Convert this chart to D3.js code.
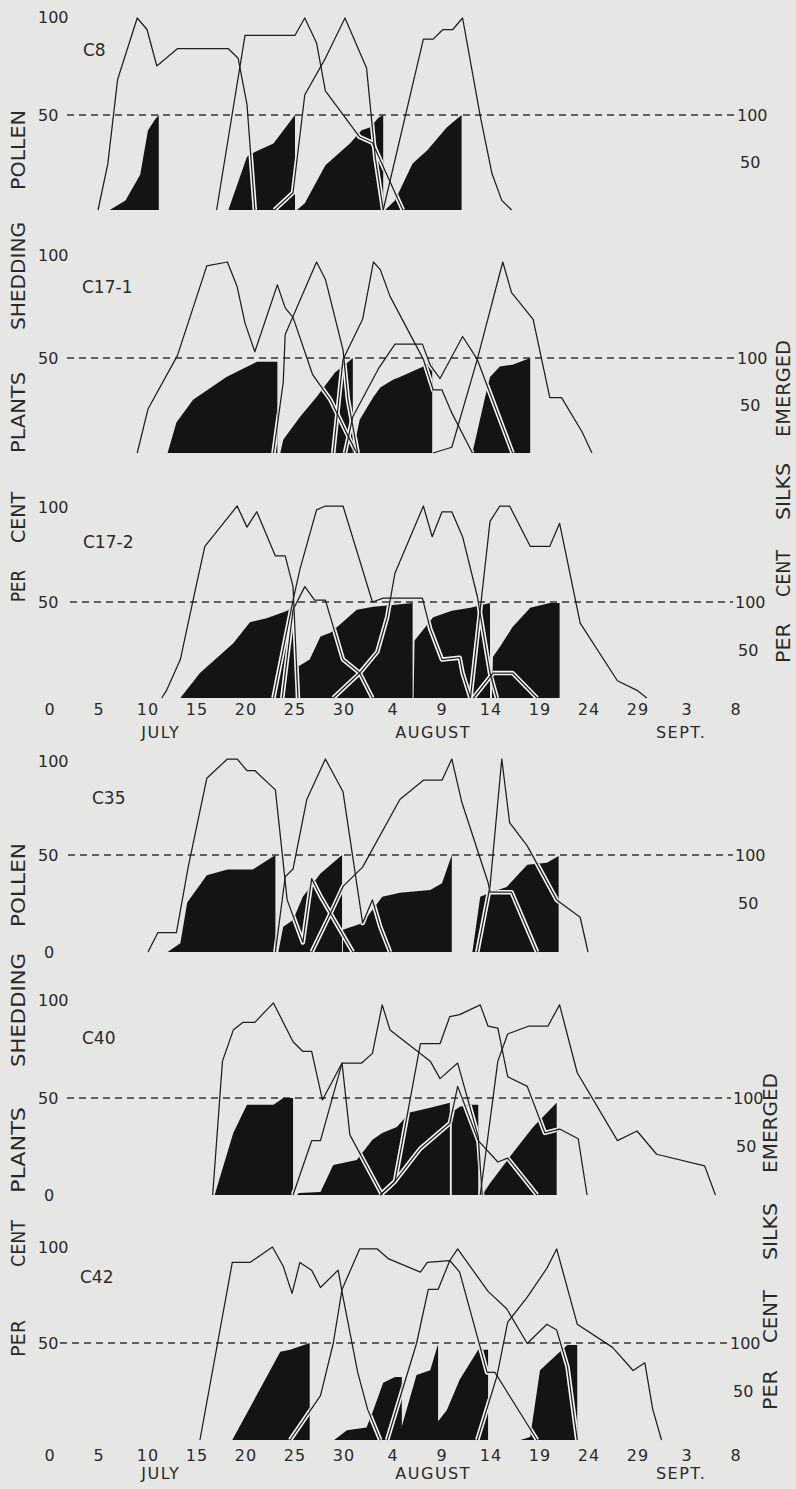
<!DOCTYPE html>
<html>
<head>
<meta charset="utf-8">
<script src="https://d3js.org/d3.v7.min.js"></script>
<style>
  body { margin: 0; background: #e6e6e4; }
  svg { display: block; }
  .lbl { font-family: "DejaVu Sans", sans-serif; fill: #2a2a2a; }
  .pollen { fill: none; stroke: #1e1e1e; stroke-width: 1.25; stroke-linejoin: round; }
  .casing { fill: none; stroke: #f4f4f2; stroke-width: 4.5; stroke-linejoin: round; }
  .silk { fill: #141414; stroke: none; }
  .half { stroke: #333; stroke-width: 1.4; stroke-dasharray: 7,5; }
</style>
</head>
<body>
<svg id="chart" width="796" height="1489"></svg>
<script>
// x = days counted from June 30 (0) ; pollen / silk values in per cent
const tickDays = [0, 5, 10, 15, 20, 25, 30, 35, 40, 45, 50, 55, 60, 65, 70];
const tickLabels = ["0", "5", "10", "15", "20", "25", "30", "4", "9", "14", "19", "24", "29", "3", "8"];
const monthNames = ["JULY", "AUGUST", "SEPT."];
const monthDays = [11.3, 39.1, 64.4];

const panelNames = ["C8", "C17-1", "C17-2", "C35", "C40", "C42"];

// per cent plants shedding pollen
const c8Pollen = [
  [[4.9,0],[5.9,24],[6.9,68],[8.9,100],[9.9,94],[10.9,75],[13.0,84],[18.2,84],[19.2,79],[20.1,55],[20.9,0]],
  [[17.0,0],[19.9,91],[25.0,91],[26.0,100],[27.2,87],[28.1,62],[31.6,38],[32.9,35],[36.0,0]],
  [[22.9,0],[24.8,9],[26.0,60],[28.1,79],[30.1,100],[32.3,74],[33.2,27],[34.0,0]],
  [[34.0,0],[38.1,89],[39.1,89],[40.1,94],[41.1,94],[42.1,100],[43.9,49],[45.1,19],[46.1,5],[47.1,0]]
];
const c171Pollen = [
  [[8.9,0],[10.0,23],[13.0,51],[16.0,98],[18.1,100],[19.1,87],[19.9,68],[20.9,53],[23.2,88],[24.0,76],[24.8,71],[26.8,41],[28.6,28],[30.6,7],[31.3,0]],
  [[22.8,0],[23.8,37],[24.0,62],[27.2,100],[28.1,91],[29.9,54],[30.4,28],[31.4,0]],
  [[28.9,0],[29.9,49],[31.9,70],[33.0,100],[33.7,96],[34.7,82],[38.1,49],[39.1,33],[40.0,33],[41.0,21],[43.1,0]],
  [[30.1,0],[30.9,19],[33.5,44],[35.2,57],[38.0,57],[38.8,46],[39.8,39],[42.1,61],[43.6,49],[47.2,0]],
  [[39.1,0],[41.0,3],[43.6,49],[46.2,100],[47.1,84],[49.3,70],[51.0,29],[52.2,29],[54.3,11],[55.3,0]]
];
const c172Pollen = [
  [[11.4,0],[11.9,4],[13.3,20],[14.6,51],[15.8,79],[16.6,84],[19.1,100],[20.1,89],[21.1,97],[23.0,74],[24.0,74],[24.8,58],[25.3,0]],
  [[22.8,0],[24.8,51],[25.5,67],[27.2,98],[28.1,100],[29.9,100],[32.9,50],[34.0,52],[38.0,52],[38.8,36],[40.0,20],[41.8,21],[42.1,13],[42.9,0]],
  [[23.7,0],[24.8,46],[26.0,58],[27.0,51],[28.1,51],[29.9,20],[31.6,13],[32.9,0]],
  [[28.9,0],[31.6,13],[33.4,24],[34.4,42],[35.2,65],[38.1,100],[39.0,84],[40.0,97],[41.0,97],[42.1,84],[43.6,53],[44.9,13],[45.6,0]],
  [[42.9,0],[44.9,92],[45.9,100],[46.9,100],[49.0,79],[51.0,79],[52.0,91],[54.1,39],[57.9,9],[59.9,4],[60.9,0]],
  [[43.2,0],[45.2,13],[47.2,13],[49.7,0]]
];
const c35Pollen = [
  [[10.0,0],[11.0,10],[12.9,10],[14.1,44],[16.0,90],[18.1,100],[19.1,100],[20.1,94],[20.9,94],[23.0,84],[24.2,27],[25.8,5],[26.7,38],[27.6,29],[30.9,0]],
  [[23.0,0],[24.0,39],[24.8,43],[26.2,79],[28.1,100],[29.9,83],[30.9,49],[31.9,15],[32.9,27],[33.7,13],[34.7,0]],
  [[26.7,0],[28.9,23],[29.9,34],[31.9,44],[35.7,79],[38.1,89],[40.0,89],[41.0,100],[42.0,78],[44.7,36],[44.9,31],[47.1,31],[49.7,0]],
  [[43.6,0],[44.9,34],[46.1,100],[46.9,67],[48.7,55],[51.7,27],[54.1,18],[54.9,0]]
];
const c40Pollen = [
  [[16.6,0],[17.6,69],[18.7,85],[19.7,89],[20.9,89],[22.8,99],[24.8,79],[25.8,74],[26.7,74],[27.8,49],[29.8,68],[30.6,31],[33.9,0]],
  [[24.8,0],[26.7,28],[27.6,28],[29.8,68],[31.8,68],[32.9,73],[33.9,98],[34.7,85],[38.8,69],[39.8,60],[41.6,68],[43.7,30],[44.1,0]],
  [[33.7,0],[35.2,7],[37.8,78],[39.8,78],[40.8,92],[41.8,93],[43.9,98],[44.7,87],[45.7,86],[46.7,61],[48.7,56],[50.5,32],[52.0,34],[53.9,29],[54.8,0]],
  [[33.7,0],[35.2,7],[37.8,24],[40.8,37],[41.6,56],[43.7,28],[45.7,17],[46.7,19],[49.7,0]],
  [[43.9,0],[45.7,69],[46.7,83],[48.8,87],[50.8,87],[52.0,98],[53.8,63],[57.9,28],[59.9,33],[61.9,21],[66.8,15],[67.9,0]]
];
const c42Pollen = [
  [[15.3,0],[18.6,92],[20.4,92],[22.7,100],[23.8,90],[24.7,76],[25.5,92],[26.7,88],[27.6,79],[29.4,88],[29.9,74],[31.4,35],[32.4,16],[33.7,0]],
  [[24.5,0],[27.6,23],[28.9,50],[29.8,78],[31.6,99],[33.4,99],[34.5,94],[37.8,87],[38.5,92],[40.8,93],[41.8,87],[44.6,35],[45.4,35],[49.7,0]],
  [[34.4,0],[37.4,50],[38.6,78],[39.6,78],[40.8,93],[41.6,99],[44.7,77],[46.6,68],[48.7,50],[50.7,60],[51.7,57],[52.8,38],[53.8,0]],
  [[43.6,0],[45.6,33],[46.7,61],[48.7,74],[50.7,89],[51.7,99],[53.8,60],[57.4,48],[59.5,36],[60.7,40],[61.5,16],[62.4,0]]
];

// per cent silks emerged (cumulative)
const c8Silk = [
  [[6.1,0],[7.7,10],[9.2,37],[10.0,84],[10.7,95],[11.1,100]],
  [[18.2,0],[20.1,56],[20.9,61],[22.8,70],[25.0,100]],
  [[25.2,0],[26.0,7],[28.1,47],[30.6,70],[31.8,84],[32.7,87],[33.5,97],[34.0,100]],
  [[34.2,0],[35.2,10],[37.0,49],[38.5,63],[40.5,87],[42.0,100]]
];
const c171Silk = [
  [[12.0,0],[12.9,32],[14.6,56],[18.0,80],[21.1,96],[23.2,96]],
  [[23.5,0],[23.8,14],[25.5,38],[27.2,59],[29.1,85],[30.1,93],[30.9,100]],
  [[30.9,0],[31.6,35],[33.0,59],[33.7,69],[35.0,77],[35.7,80],[38.1,91],[39.0,95]],
  [[43.1,0],[44.4,59],[44.9,80],[45.9,91],[47.2,93],[49.0,100]]
];
const c172Silk = [
  [[13.3,0],[15.3,26],[18.7,57],[20.4,79],[22.1,83],[24.0,90],[25.0,95]],
  [[25.0,0],[25.2,32],[26.5,40],[27.6,64],[28.6,68],[29.3,74],[31.3,92],[33.0,95],[35.0,97],[37.0,99]],
  [[37.1,0],[37.2,60],[39.1,84],[41.0,91],[42.9,94],[44.9,99]],
  [[45.1,0],[45.2,43],[45.9,53],[47.2,74],[49.0,94],[51.0,99],[52.0,99]]
];
const c35Silk = [
  [[12.0,0],[13.3,9],[14.0,51],[16.0,79],[18.1,85],[20.7,85],[23.0,100]],
  [[23.3,0],[23.8,26],[24.8,33],[25.8,57],[27.6,81],[29.8,100]],
  [[29.9,0],[29.9,23],[31.9,30],[33.9,57],[35.7,61],[38.8,64],[40.0,71],[41.0,100]],
  [[43.1,0],[43.9,57],[44.9,61],[46.6,67],[48.7,90],[50.7,92],[51.9,99]]
];
const c40Silk = [
  [[16.8,0],[18.7,64],[20.1,93],[22.8,93],[23.8,100],[24.8,100]],
  [[25.2,0],[25.4,2],[27.6,3],[28.9,31],[31.3,36],[32.9,57],[33.9,64],[35.4,70],[36.7,85],[38.8,90],[40.8,95]],
  [[41.0,0],[41.0,85],[41.8,91],[42.9,93],[43.7,93]],
  [[44.1,0],[44.9,12],[47.2,43],[49.3,70],[51.7,95]]
];
const c42Silk = [
  [[18.6,0],[23.5,91],[24.5,93],[26.5,100]],
  [[29.0,0],[30.3,10],[32.3,13],[33.0,31],[34.0,59],[35.2,65],[35.9,65]],
  [[35.5,0],[37.4,67],[38.8,72],[39.5,96],[39.6,98]],
  [[38.1,0],[40.5,31],[41.8,62],[43.7,93],[44.7,93]],
  [[48.0,0],[49.0,3],[50.0,72],[51.7,88],[52.8,98],[53.8,98]]
];

const pollenData = [c8Pollen, c171Pollen, c172Pollen, c35Pollen, c40Pollen, c42Pollen];
const silkData = [c8Silk, c171Silk, c172Silk, c35Silk, c40Silk, c42Silk];

const leftWords = ["PER", "CENT", "PLANTS", "SHEDDING", "POLLEN"];
const rightWords = ["PER", "CENT", "SILKS", "EMERGED"];

// layout (pixels)
const layout = [
  { base: 210,  half: 115,  full: 18,   topY: 17,   rightX: 737, dash: [67, 735], name: [83, 50] },
  { base: 453,  half: 358,  full: 262,  topY: 255,  rightX: 737, dash: [67, 735], name: [82, 287] },
  { base: 698,  half: 602,  full: 506,  topY: 507,  rightX: 735, dash: [70, 733], name: [83, 542] },
  { base: 952,  half: 855,  full: 759,  topY: 761,  rightX: 735, dash: [68, 733], name: [92, 798] },
  { base: 1195, half: 1098, full: 1001, topY: 1000, rightX: 733, dash: [67, 731], name: [82, 1038] },
  { base: 1440, half: 1343, full: 1247, topY: 1247, rightX: 730, dash: [60, 728], name: [80, 1277] }
];
const sideSets = [
  { x: 18,  words: leftWords,  spans: [[570,602],[492,543],[372,453],[222,330],[110,190]] },
  { x: 18,  words: leftWords,  spans: [[1320,1357],[1220,1267],[1107,1193],[953,1067],[843,927]] },
  { x: 783, words: rightWords, spans: [[623,663],[550,597],[463,520],[340,437]] },
  { x: 770, words: rightWords, spans: [[1370,1410],[1290,1343],[1203,1260],[1073,1173]] }
];
const tickRows = [ { panel: 2, tickY: 715, monthY: 738 }, { panel: 5, tickY: 1461, monthY: 1479 } ];

const svg = d3.select("#chart");
svg.append("rect").attr("width", 796).attr("height", 1489).attr("fill", "#e6e6e4");
const defs = svg.append("defs");

const x = d3.scaleLinear().domain([0, 70]).range([50, 736]);

panelNames.forEach((name, i) => {
  const L = layout[i];
  const yP = d3.scaleLinear().domain([0, 100]).range([L.base, L.full]);
  const yS = d3.scaleLinear().domain([0, 100]).range([L.base, L.half]);
  const g = svg.append("g");

  g.append("line").attr("class", "half")
    .attr("x1", L.dash[0]).attr("x2", L.dash[1])
    .attr("y1", L.half).attr("y2", L.half);

  const area = d3.area().x(d => x(d[0])).y0(L.base).y1(d => yS(d[1]));
  const line = d3.line().x(d => x(d[0])).y(d => yP(d[1]));

  defs.append("clipPath").attr("id", "silk" + i)
    .selectAll("path").data(silkData[i]).join("path").attr("d", area);

  g.selectAll("path.silk").data(silkData[i]).join("path")
    .attr("class", "silk").attr("d", area);

  // pollen lines show as white double lines where they cross the black
  g.append("g").attr("clip-path", `url(#silk${i})`)
    .selectAll("path").data(pollenData[i]).join("path")
    .attr("class", "casing").attr("d", line);

  g.selectAll("path.pollen").data(pollenData[i]).join("path")
    .attr("class", "pollen").attr("d", line);

  // labels
  g.append("text").attr("class", "lbl").attr("x", L.name[0]).attr("y", L.name[1])
    .attr("dy", "0.36em").style("font-size", "17px").text(name);
  g.append("text").attr("class", "lbl").attr("x", 38).attr("y", L.topY)
    .attr("dy", "0.36em").style("font-size", "16px").text("100");
  g.append("text").attr("class", "lbl").attr("x", 38).attr("y", L.half)
    .attr("dy", "0.36em").style("font-size", "16px").text("50");
  if (i === 3 || i === 4) {
    g.append("text").attr("class", "lbl").attr("x", 44).attr("y", L.base)
      .attr("dy", "0.36em").style("font-size", "16px").text("0");
  }
  g.append("text").attr("class", "lbl").attr("x", L.rightX).attr("y", L.half)
    .attr("dy", "0.36em").style("font-size", "16px").text("100");
  g.append("text").attr("class", "lbl").attr("x", L.rightX + 3).attr("y", yS(50))
    .attr("dy", "0.36em").style("font-size", "16px").text("50");
});

// day ticks and month names
tickRows.forEach(r => {
  const g = svg.append("g");
  g.selectAll("text.tick").data(tickDays).join("text")
    .attr("class", "lbl tick").attr("x", d => x(d)).attr("y", r.tickY)
    .attr("text-anchor", "middle").style("font-size", "16px").style("letter-spacing", "1px")
    .text((d, k) => tickLabels[k]);
  g.selectAll("text.month").data(monthNames).join("text")
    .attr("class", "lbl month").attr("x", (d, k) => x(monthDays[k])).attr("y", r.monthY)
    .attr("text-anchor", "middle").style("font-size", "16px").style("letter-spacing", "1.5px")
    .text(d => d);
});

// rotated side titles
sideSets.forEach(s => {
  s.words.forEach((w, k) => {
    const [a, b] = s.spans[k];
    svg.append("text").attr("class", "lbl")
      .attr("transform", `translate(${s.x},${(a + b) / 2}) rotate(-90)`)
      .attr("text-anchor", "middle").attr("dy", "0.36em")
      .attr("textLength", b - a).attr("lengthAdjust", "spacingAndGlyphs")
      .style("font-size", "19px")
      .text(w);
  });
});
</script>
</body>
</html>
